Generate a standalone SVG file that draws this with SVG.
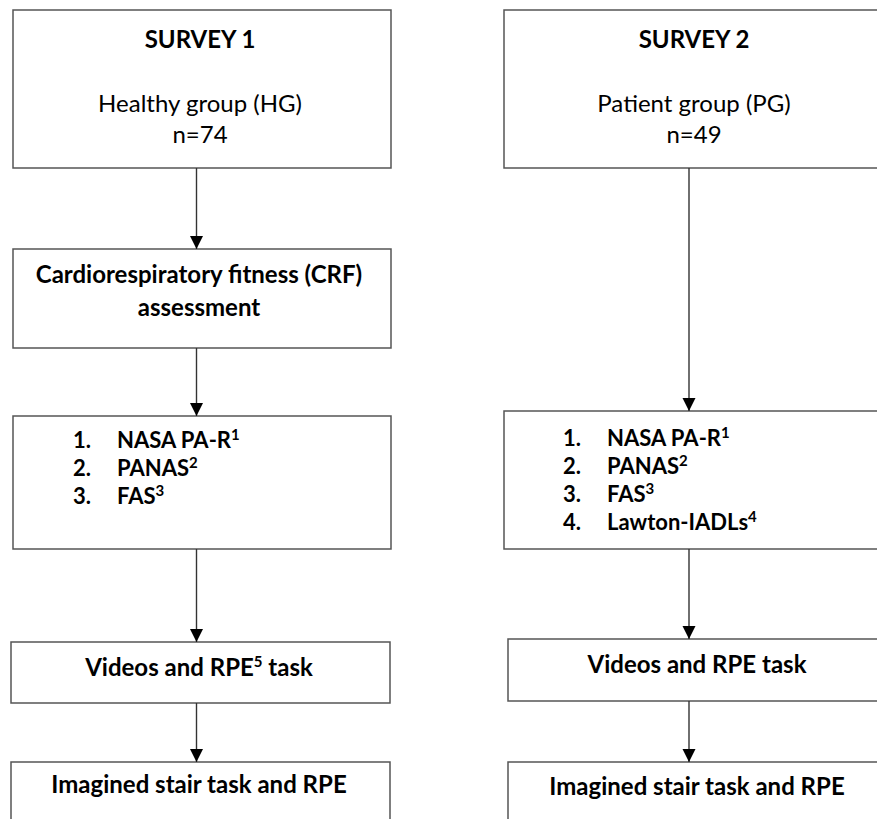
<svg xmlns="http://www.w3.org/2000/svg" width="877" height="819" viewBox="0 0 877 819">
<defs>
<marker id="ah" markerUnits="userSpaceOnUse" markerWidth="14" markerHeight="14" refX="13" refY="6.5" orient="auto">
<path d="M0,0 L13,6.5 L0,13 Z" fill="#000"/>
</marker>
</defs>
<style>
.box{fill:#fff;stroke:#555;stroke-width:1.5}
.t{font-family:Lato,"Noto Sans","Liberation Sans",sans-serif;font-size:24px;fill:#000}
.b{font-weight:bold}
.c{text-anchor:middle}
.l{font-size:22px}
.conn line{stroke:#333;stroke-width:1.4}
</style>
<rect width="877" height="819" fill="#fff"/>
<g id="survey1">
<rect class="box" x="13" y="10" width="378" height="158"/>
<text class="t b c" x="200" y="48" font-size="26">SURVEY 1</text>
<text class="t c" x="200" y="112">Healthy group (HG)</text>
<text class="t c" x="200" y="143">n=74</text>
</g>
<g id="survey2">
<rect class="box" x="504" y="10" width="380" height="158"/>
<text class="t b c" x="694" y="48" font-size="26">SURVEY 2</text>
<text class="t c" x="694" y="112">Patient group (PG)</text>
<text class="t c" x="694" y="143">n=49</text>
</g>
<g id="crf">
<rect class="box" x="13" y="249" width="378" height="99"/>
<text class="t b c" x="199" y="283">Cardiorespiratory fitness (CRF)</text>
<text class="t b c" x="199" y="316">assessment</text>
</g>
<g id="list1">
<rect class="box" x="13" y="416" width="378" height="133"/>
<text class="t b l" x="73" y="448">1.</text><text class="t b l" x="117" y="448">NASA PA-R<tspan font-size="15" dy="-8">1</tspan></text>
<text class="t b l" x="73" y="476">2.</text><text class="t b l" x="117" y="476">PANAS<tspan font-size="15" dy="-8">2</tspan></text>
<text class="t b l" x="73" y="504">3.</text><text class="t b l" x="117" y="504">FAS<tspan font-size="15" dy="-8">3</tspan></text>
</g>
<g id="list2">
<rect class="box" x="504" y="411" width="380" height="138"/>
<text class="t b l" x="563" y="446">1.</text><text class="t b l" x="607" y="446">NASA PA-R<tspan font-size="15" dy="-8">1</tspan></text>
<text class="t b l" x="563" y="474">2.</text><text class="t b l" x="607" y="474">PANAS<tspan font-size="15" dy="-8">2</tspan></text>
<text class="t b l" x="563" y="502">3.</text><text class="t b l" x="607" y="502">FAS<tspan font-size="15" dy="-8">3</tspan></text>
<text class="t b l" x="563" y="530">4.</text><text class="t b l" x="607" y="530">Lawton-IADLs<tspan font-size="15" dy="-8">4</tspan></text>
</g>
<g id="videos1">
<rect class="box" x="11" y="642" width="379" height="61"/>
<text class="t b c" x="199" y="676">Videos and RPE<tspan font-size="15" dy="-9">5</tspan><tspan dy="9"> task</tspan></text>
</g>
<g id="videos2">
<rect class="box" x="508" y="639" width="376" height="62"/>
<text class="t b c" x="697" y="673">Videos and RPE task</text>
</g>
<g id="stair1">
<rect class="box" x="11" y="762" width="379" height="70"/>
<text class="t b c" x="199" y="793">Imagined stair task and RPE</text>
</g>
<g id="stair2">
<rect class="box" x="508" y="762" width="376" height="70"/>
<text class="t b c" x="697" y="795">Imagined stair task and RPE</text>
</g>
<g id="connectors" class="conn">
<line x1="196.5" y1="168" x2="196.5" y2="249" marker-end="url(#ah)"/>
<line x1="196.5" y1="348" x2="196.5" y2="416" marker-end="url(#ah)"/>
<line x1="196.5" y1="549" x2="196.5" y2="642" marker-end="url(#ah)"/>
<line x1="196.5" y1="703" x2="196.5" y2="762" marker-end="url(#ah)"/>
<line x1="689" y1="168" x2="689" y2="411" marker-end="url(#ah)"/>
<line x1="689" y1="549" x2="689" y2="639" marker-end="url(#ah)"/>
<line x1="689" y1="701" x2="689" y2="762" marker-end="url(#ah)"/>
</g>
</svg>
